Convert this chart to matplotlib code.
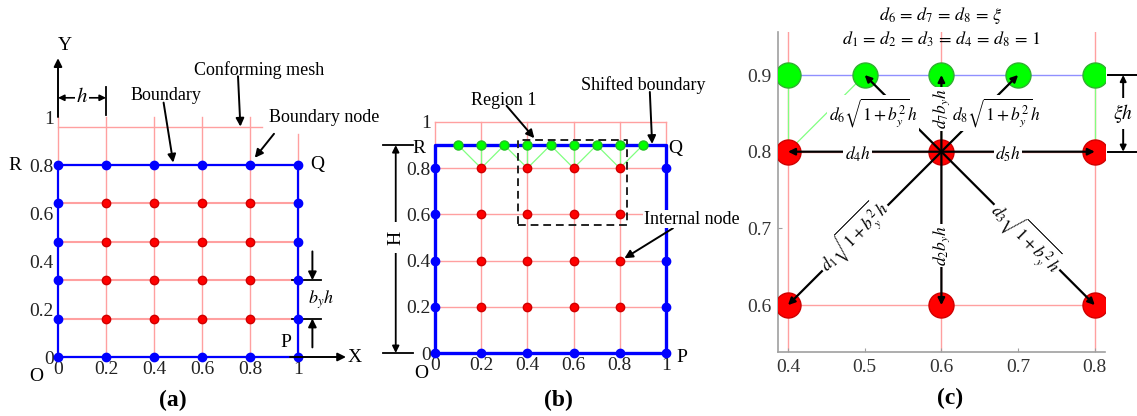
import matplotlib
matplotlib.use("Agg")
import matplotlib.pyplot as plt

plt.rcParams['font.family'] = ['Liberation Serif', 'DejaVu Serif']
plt.rcParams['mathtext.fontset'] = 'stix'

# mesh data
mesh_x = [0, 0.2, 0.4, 0.6, 0.8, 1.0]
tick_vals = [0, 0.2, 0.4, 0.6, 0.8, 1.0]
tick_text = ['0', '0.2', '0.4', '0.6', '0.8', '1']

# (a) conforming mesh rows, b_y = 0.8
a_rows = [0, 0.16, 0.32, 0.48, 0.64, 0.8]

# (b) shifted boundary
b_rows = [0, 0.2, 0.4, 0.6, 0.8]
b_top = 0.9
b_green_x = [0.1, 0.2, 0.3, 0.4, 0.5, 0.6, 0.7, 0.8, 0.9]
region1 = (0.36, 0.555, 0.83, 0.92)

# (c) stencil around node (0.6, 0.8)
c_center = (0.6, 0.8)
c_red_x = [0.4, 0.6, 0.8, 0.4, 0.6, 0.8]
c_red_y = [0.8, 0.8, 0.8, 0.6, 0.6, 0.6]
c_green_x = [0.4, 0.5, 0.6, 0.7, 0.8]
c_green_y = [0.9, 0.9, 0.9, 0.9, 0.9]
c_xticks = [0.4, 0.5, 0.6, 0.7, 0.8]
c_yticks = [0.6, 0.7, 0.8, 0.9]

PINK = '#ffa0a0'
BLUE = '#0000ff'
RED = '#ff0000'
GREEN = '#00ff00'
LGREEN = '#80ff80'
SERIF = 'Liberation Serif'

W, H = 1137, 416
fig = plt.figure(figsize=(W / 100, H / 100), dpi=100)


def rect(px0, py0, s, xlim, ylim):
    left = (px0 + s * xlim[0]) / W
    right = (px0 + s * xlim[1]) / W
    top = py0 - s * ylim[1]
    bot = py0 - s * ylim[0]
    return [left, 1 - bot / H, right - left, (bot - top) / H]


def serif_ticks(ax):
    for t in ax.get_xticklabels() + ax.get_yticklabels():
        t.set_fontfamily(SERIF)


def origin_ticks(ax):
    for k in ax.spines:
        ax.spines[k].set_visible(False)
    ax.spines['left'].set_position(('data', 0))
    ax.spines['bottom'].set_position(('data', 0))
    ax.set_xticks(tick_vals, tick_text)
    ax.set_yticks(tick_vals, tick_text)
    ax.tick_params(length=0, labelsize=14, pad=3, labelcolor='#222222')
    serif_ticks(ax)


def arrow(ax, start, end, style='-|>', lw=1.4, ms=12):
    ax.annotate('', xy=end, xytext=start, annotation_clip=False,
                arrowprops=dict(arrowstyle=style, color='k', lw=lw,
                                shrinkA=0, shrinkB=0, mutation_scale=ms))


white = dict(facecolor='white', edgecolor='none', pad=1)

# ---------------- (a) ----------------
xl, yl = (-0.22, 1.35), (-0.2, 1.4)
ax = fig.add_axes(rect(58, 357, 240, xl, yl))
ax.set_xlim(xl)
ax.set_ylim(yl)
ax.patch.set_alpha(0)
origin_ticks(ax)

for x in mesh_x[1:-1]:
    ax.plot([x, x], [0, 1.0], color=PINK, lw=1, zorder=1)
ax.plot([1, 1], [0, 0.93], color=PINK, lw=1, zorder=1)
ax.plot([0, 0], [0.8, 1.0], color=PINK, lw=1, zorder=1)
for y in a_rows:
    ax.plot([0, 1], [y, y], color=PINK, lw=1.5, zorder=1)
ax.plot([0, 0.85], [0.96, 0.96], color=PINK, lw=1, zorder=1)
ax.plot([0, 1, 1, 0, 0], [0, 0, 0.8, 0.8, 0], color=BLUE, lw=1.6, zorder=2)

for y in a_rows:
    for x in mesh_x:
        on_edge = x in (0, 1.0) or y in (0, 0.8)
        ax.plot(x, y, 'o', ms=6, color=BLUE if on_edge else RED,
                mec=BLUE if on_edge else '#d00000', zorder=3)

arrow(ax, (0, 1.0), (0, 1.245))
arrow(ax, (0.967, 0), (1.2, 0))
ax.text(0.03, 1.3, 'Y', fontsize=14, ha='center', va='center')
ax.text(1.235, 0, 'X', fontsize=14, ha='center', va='center')
arrow(ax, (0, 1.08), (0.2, 1.08), style='<|-|>', lw=1.2, ms=9)
ax.plot([0.2, 0.2], [1.01, 1.125], color='k', lw=1.3)
ax.text(0.1, 1.08, '$h$', fontsize=15, ha='center', va='center', bbox=white)

ax.text(0.45, 1.09, 'Boundary', fontsize=13, ha='center', va='center')
arrow(ax, (0.44, 1.06), (0.48, 0.81))
ax.text(0.84, 1.195, 'Conforming mesh', fontsize=13, ha='center', va='center')
arrow(ax, (0.75, 1.17), (0.76, 0.96))
ax.text(1.11, 1.0, 'Boundary node', fontsize=13, ha='center', va='center')
arrow(ax, (0.9, 0.93), (0.82, 0.83))

ax.plot([0.975, 1.095], [0.32, 0.32], color='k', lw=1.3)
ax.plot([0.975, 1.095], [0.16, 0.16], color='k', lw=1.3)
arrow(ax, (1.06, 0.44), (1.06, 0.32))
arrow(ax, (1.06, 0.04), (1.06, 0.16))
ax.text(1.095, 0.24, '$b_y h$', fontsize=13, ha='center', va='center')

for s, x, y in [('R', -0.18, 0.8), ('Q', 1.08, 0.8), ('P', 0.95, 0.06),
                ('O', -0.09, -0.08)]:
    ax.text(x, y, s, fontsize=14, ha='center', va='center')
fig.text(173 / W, 1 - 400 / H, '(a)', fontsize=17, fontweight='bold',
         ha='center', va='center')

# ---------------- (b) ----------------
xl, yl = (-0.3, 1.3), (-0.22, 1.25)
ax = fig.add_axes(rect(435, 353, 231, xl, yl))
ax.set_xlim(xl)
ax.set_ylim(yl)
ax.patch.set_alpha(0)
origin_ticks(ax)

for x in mesh_x:
    ax.plot([x, x], [0, 1.0], color=PINK, lw=1, zorder=1)
for y in b_rows[1:] + [1.0]:
    ax.plot([0, 1], [y, y], color=PINK, lw=1, zorder=1)
for x in mesh_x[1:-1]:
    ax.plot([x - 0.1, x, x + 0.1], [b_top, 0.8, b_top], color=LGREEN, lw=0.9, zorder=2)
    ax.plot([x, x], [b_top, 0.8], color=LGREEN, lw=0.9, zorder=2)
ax.plot([1, 1, 0, 0, 1, 1], [0.55, b_top, b_top, 0, 0, 0.2], color=BLUE, lw=2.4, zorder=2)
ax.plot([1, 1], [0.2, 0.55], color=BLUE, lw=2.4, zorder=2)

for y in b_rows:
    for x in mesh_x:
        on_edge = x in (0, 1.0) or y == 0
        ax.plot(x, y, 'o', ms=6, color=BLUE if on_edge else RED,
                mec=BLUE if on_edge else '#d00000', zorder=3)
ax.plot(b_green_x, [b_top] * len(b_green_x), 'o', ms=6.5, color=GREEN,
        mec='#20c020', ls='none', zorder=3)

x0, y0, x1, y1 = region1
ax.plot([x0, x1, x1, x0, x0], [y0, y0, y1, y1, y0], color='#222222', lw=1.4,
        ls=(0, (4, 2.5)), zorder=4)
ax.text(0.296, 1.095, 'Region 1', fontsize=13, ha='center', va='center')
arrow(ax, (0.31, 1.07), (0.43, 0.93))
ax.text(0.9, 1.16, 'Shifted boundary', fontsize=13, ha='center', va='center')
arrow(ax, (0.93, 1.13), (0.94, 0.905))
ax.text(0.905, 0.58, 'Internal node', fontsize=13, ha='left', va='center',
        bbox=dict(facecolor='white', edgecolor='none', pad=0.5), zorder=5)
arrow(ax, (1.03, 0.54), (0.82, 0.41))

ax.plot([-0.226, -0.096], [b_top, b_top], color='k', lw=1.3)
ax.plot([-0.226, -0.096], [0, 0], color='k', lw=1.3)
arrow(ax, (-0.17, 0), (-0.17, b_top), style='<|-|>', lw=1.3, ms=10)
ax.text(-0.17, 0.5, 'H', fontsize=14, rotation=90, ha='center', va='center',
        bbox=dict(facecolor='white', edgecolor='none', pad=6))

for s, x, y in [('R', -0.07, 0.885), ('Q', 1.04, 0.885), ('P', 1.07, -0.02),
                ('O', -0.06, -0.09)]:
    ax.text(x, y, s, fontsize=14, ha='center', va='center')
fig.text(558 / W, 1 - 400 / H, '(b)', fontsize=17, fontweight='bold',
         ha='center', va='center')

# ---------------- (c) ----------------
xl, yl = (0.387, 0.813), (0.539, 0.956)
ax = fig.add_axes(rect(788 - 767 * 0.4, 75 + 767 * 0.9, 767, xl, yl))
ax.set_xlim(xl)
ax.set_ylim(yl)
ax.patch.set_alpha(0)
for k in ('top', 'right'):
    ax.spines[k].set_visible(False)
for k in ('left', 'bottom'):
    ax.spines[k].set_color('#a0a0a0')
    ax.spines[k].set_linewidth(1.2)
ax.set_xticks(c_xticks, ['0.4', '0.5', '0.6', '0.7', '0.8'])
ax.set_yticks(c_yticks, ['0.6', '0.7', '0.8', '0.9'])
ax.tick_params(direction='in', length=3, color='#a0a0a0', labelsize=14,
               labelcolor='#333333', pad=5)
serif_ticks(ax)

for x in (0.4, 0.6, 0.8):
    ax.axvline(x, color=PINK, lw=1, zorder=1)
for y in (0.6, 0.8):
    ax.plot([0.4, 0.8], [y, y], color=PINK, lw=1, zorder=1)
ax.plot([0.4, 0.8], [0.9, 0.9], color='#9090ff', lw=1, zorder=1)
for gx in c_green_x:
    tx = min([0.4, 0.6, 0.8], key=lambda r: abs(r - gx))
    ax.plot([gx, tx], [0.9, 0.8], color=LGREEN, lw=0.9, zorder=2)
    if gx in (0.5, 0.7):
        ax.plot([gx, 0.6], [0.9, 0.8], color=LGREEN, lw=0.9, zorder=2)

ax.plot(c_red_x, c_red_y, 'o', ms=18, color=RED, mec='#d00000', ls='none', zorder=3)
ax.plot(c_green_x, c_green_y, 'o', ms=18, color=GREEN, mec='#30b030', ls='none', zorder=3)

targets = list(zip(c_red_x, c_red_y)) + list(zip(c_green_x, c_green_y))
for tx, ty in targets:
    if (tx, ty) in [(0.4, 0.9), (0.8, 0.9), c_center]:
        continue
    arrow(ax, c_center, (tx, ty), lw=1.6, ms=10)

lab = dict(fontsize=12.5, ha='center', va='center', bbox=white, zorder=6)
ax.text(0.511, 0.85, r'$d_6\sqrt{1+b_y^2}h$', **lab)
ax.text(0.672, 0.85, r'$d_8\sqrt{1+b_y^2}h$', **lab)
ax.text(0.6, 0.856, r'$d_7b_yh$', rotation=90, **lab)
ax.text(0.491, 0.797, r'$d_4h$', **lab)
ax.text(0.687, 0.797, r'$d_5h$', **lab)
ax.text(0.485, 0.69, r'$d_1\sqrt{1+b_y^2}h$', rotation=45, **lab)
ax.text(0.6, 0.678, r'$d_2b_yh$', rotation=90, **lab)
ax.text(0.711, 0.688, r'$d_3\sqrt{1+b_y^2}h$', rotation=-45, **lab)

ax.text(0.6, 0.978, r'$d_6\,=\,d_7\,=\,d_8\,=\,\xi$', fontsize=13, ha='center',
        va='center', clip_on=False)
ax.text(0.6, 0.946, r'$d_1\,=\,d_2\,=\,d_3\,=\,d_4\,=\,d_8\,=\,1$', fontsize=13,
        ha='center', va='center', clip_on=False)

ax.plot([0.817, 0.86], [0.9, 0.9], color='k', lw=1.4, clip_on=False)
ax.plot([0.817, 0.86], [0.8, 0.8], color='k', lw=1.4, clip_on=False)
arrow(ax, (0.837, 0.8), (0.837, 0.9), style='<|-|>', lw=1.4, ms=9)
ax.text(0.837, 0.85, r'$\xi h$', fontsize=14, ha='center', va='center',
        bbox=dict(facecolor='white', edgecolor='none', pad=3), zorder=6)
fig.text(950 / W, 1 - 398 / H, '(c)', fontsize=17, fontweight='bold',
         ha='center', va='center')

fig.savefig('out.png', dpi=100)
